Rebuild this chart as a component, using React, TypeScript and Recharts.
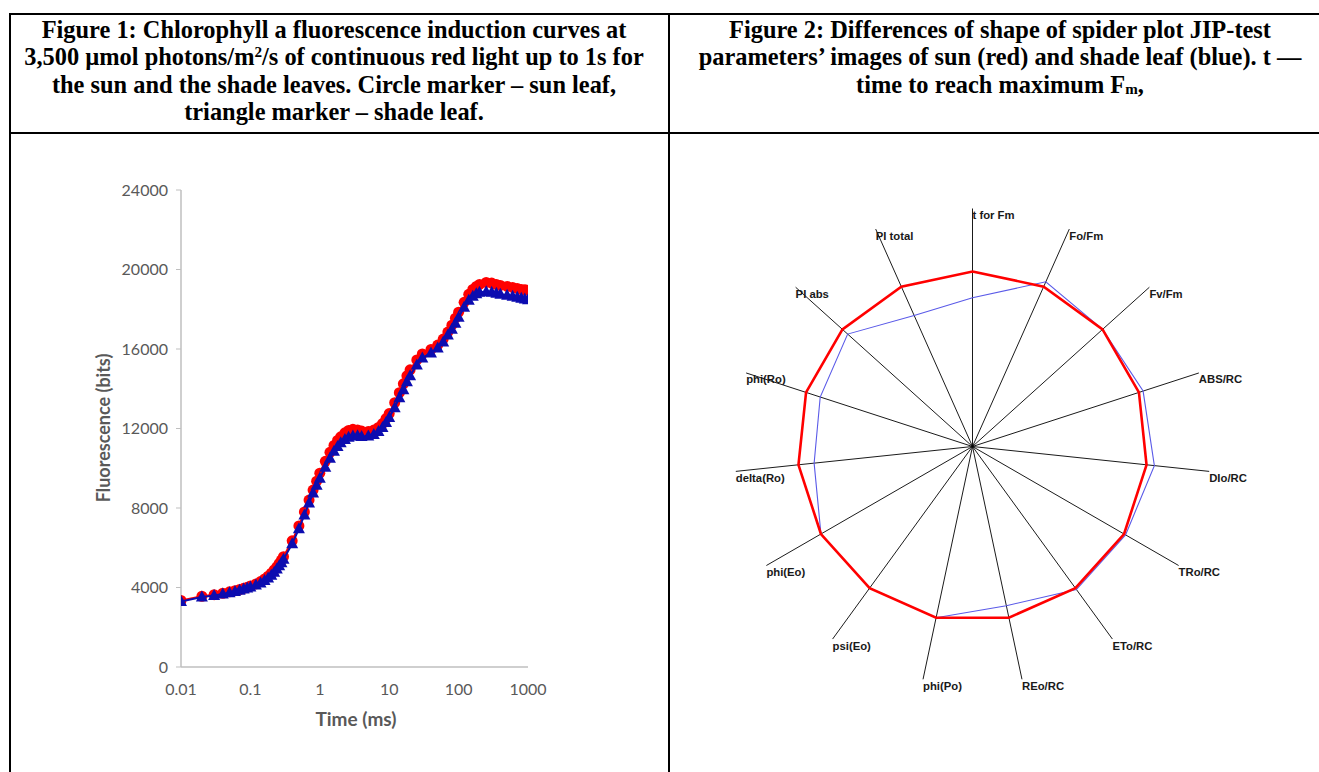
import React from 'react';
import {
  ScatterChart,
  Scatter,
  XAxis,
  YAxis,
  RadarChart,
  Radar,
  PolarGrid,
  PolarAngleAxis,
  PolarRadiusAxis,
} from 'recharts';

// Figure 1 – OJIP induction curves (time in ms, fluorescence in bits)
const timeMs = [
  0.01, 0.02, 0.03, 0.04, 0.05, 0.06, 0.07, 0.08, 0.09, 0.1,
  0.12, 0.14, 0.16, 0.18, 0.2, 0.22, 0.24, 0.26, 0.28, 0.3,
  0.4, 0.5, 0.6, 0.7, 0.8, 0.9, 1, 1.2, 1.4, 1.6,
  1.8, 2, 2.3, 2.6, 3, 3.5, 4, 5, 6, 7,
  8, 9, 10, 12, 14, 16, 18, 20, 25, 30,
  40, 50, 60, 70, 80, 90, 100, 120, 140, 160,
  180, 200, 250, 300, 350, 400, 500, 600, 700, 800,
  900, 1000,
];
const sunLeaf = [
  3350, 3560, 3640, 3710, 3780, 3840, 3900, 3960, 4010, 4070,
  4180, 4300, 4430, 4570, 4720, 4880, 5040, 5210, 5380, 5550,
  6350, 7100, 7800, 8400, 8900, 9350, 9750, 10350, 10800, 11150,
  11400, 11580, 11780, 11900, 11960, 11930, 11870, 11850, 11920, 12050,
  12250, 12500, 12750, 13300, 13800, 14250, 14650, 14950, 15450, 15750,
  15980, 16200, 16500, 16850, 17200, 17550, 17850, 18350, 18750, 19000,
  19150, 19250, 19350, 19320, 19250, 19200, 19150, 19100, 19050, 19000,
  18980, 18950,
];
const shadeLeaf = [
  3300, 3520, 3600, 3670, 3740, 3800, 3860, 3920, 3970, 4020,
  4120, 4230, 4350, 4480, 4620, 4770, 4930, 5090, 5250, 5420,
  6200, 6950, 7650, 8250, 8750, 9150, 9500, 10050, 10500, 10850,
  11100, 11280, 11450, 11560, 11620, 11630, 11600, 11620, 11700, 11850,
  12050, 12300, 12550, 13050, 13550, 13950, 14350, 14650, 15200, 15550,
  15800, 16050, 16350, 16700, 17000, 17300, 17600, 18100, 18450, 18650,
  18780, 18850, 18880, 18850, 18800, 18750, 18700, 18650, 18600, 18550,
  18520, 18480,
];
const timeTicks = [0.01, 0.1, 1, 10, 100, 1000];
const fluorTicks = [0, 4000, 8000, 12000, 16000, 20000, 24000];

// Figure 2 – JIP-test spider plot (sun leaf = 1)
const jipParams = [
  't for Fm', 'Fo/Fm', 'Fv/Fm', 'ABS/RC', 'DIo/RC', 'TRo/RC', 'ETo/RC', 'REo/RC',
  'phi(Po)', 'psi(Eo)', 'phi(Eo)', 'delta(Ro)', 'phi(Ro)', 'PI abs', 'PI total',
];
const sunJip = [1, 1, 1, 1, 1, 1, 1, 1, 1, 1, 1, 1, 1, 1, 1];
const shadeJip = [0.85, 1.03, 1.0, 1.025, 1.045, 1.01, 1.01, 0.93, 1.0, 1.0, 1.0, 0.91, 0.915, 0.96, 0.82];

const sunData = timeMs.map((t, i) => ({ t, f: sunLeaf[i] }));
const shadeData = timeMs.map((t, i) => ({ t, f: shadeLeaf[i] }));
const jipData = jipParams.map((p, i) => ({ param: p, sun: sunJip[i], shade: shadeJip[i] }));

const RED = '#ff0000';
const BLUE = '#0c0cb0';
const GREY_TEXT = '#595959';

const RedCircle = (props: any) => <circle cx={props.cx} cy={props.cy} r={5.5} fill={RED} />;

const BlueTriangle = (props: any) => {
  const { cx, cy } = props;
  return <path d={`M${cx},${cy - 6.5}L${cx + 6},${cy + 4.5}L${cx - 6},${cy + 4.5}Z`} fill={BLUE} />;
};

const SpiderLabel = (props: any) => (
  <text
    x={props.x}
    y={props.y + 10.5}
    textAnchor="start"
    fontFamily="'Liberation Sans', Arial, sans-serif"
    fontWeight="bold"
    fontSize={11.3}
    fill="#1a1a1a"
  >
    {props.payload.value}
  </text>
);

const headStyle: React.CSSProperties = {
  position: 'absolute',
  top: 16,
  width: 660,
  textAlign: 'center',
  fontFamily: "'Liberation Serif', 'Times New Roman', serif",
  fontWeight: 'bold',
  fontSize: 24.4,
  lineHeight: '27.3px',
  whiteSpace: 'nowrap',
  color: '#000',
};

const sup: React.CSSProperties = { fontSize: '0.62em', lineHeight: 0, position: 'relative', top: '-0.55em' };
const sub: React.CSSProperties = { fontSize: '0.62em', lineHeight: 0, position: 'relative', top: '0.1em' };

const axisTitle: React.CSSProperties = {
  position: 'absolute',
  width: 220,
  lineHeight: '20px',
  textAlign: 'center',
  fontFamily: 'Lato, sans-serif',
  fontWeight: 'bold',
  color: GREY_TEXT,
};

export default function App() {
  return (
    <div
      style={{
        position: 'absolute',
        left: 0,
        top: 0,
        width: 1319,
        height: 772,
        overflow: 'hidden',
        background: '#fff',
      }}
    >
      {/* table borders */}
      <div style={{ position: 'absolute', left: 9, top: 13, width: 1310, height: 2, background: '#000' }} />
      <div style={{ position: 'absolute', left: 9, top: 132, width: 1310, height: 2, background: '#000' }} />
      <div style={{ position: 'absolute', left: 9, top: 13, width: 2, height: 759, background: '#000' }} />
      <div style={{ position: 'absolute', left: 668, top: 13, width: 2, height: 759, background: '#000' }} />

      <div style={{ ...headStyle, left: 334 - 330 }}>
        Figure 1: Chlorophyll a fluorescence induction curves at
        <br />
        3,500 µmol photons/m<span style={sup}>2</span>/s of continuous red light up to 1s for
        <br />
        the sun and the shade leaves. Circle marker – sun leaf,
        <br />
        triangle marker – shade leaf.
      </div>
      <div style={{ ...headStyle, left: 1000 - 330 }}>
        Figure 2: Differences of shape of spider plot JIP-test
        <br />
        parameters’ images of sun (red) and shade leaf (blue). t —
        <br />
        time to reach maximum F<span style={sub}>m</span>,
      </div>

      {/* Figure 1 */}
      <div style={{ position: 'absolute', left: 60, top: 160 }}>
        <ScatterChart width={520} height={600} margin={{ top: 30, right: 52, bottom: 53, left: 60 }}>
          <XAxis
            dataKey="t"
            type="number"
            scale="log"
            domain={[0.01, 1000]}
            ticks={timeTicks}
            allowDataOverflow
            height={40}
            axisLine={{ stroke: '#bfbfbf', strokeWidth: 1.5 }}
            tickLine={false}
            tickSize={6}
            tickMargin={11}
            tick={{ fill: GREY_TEXT, fontSize: 16, fontFamily: 'Lato, sans-serif' }}
          />
          <YAxis
            dataKey="f"
            type="number"
            domain={[0, 24000]}
            ticks={fluorTicks}
            width={61}
            axisLine={{ stroke: '#bfbfbf', strokeWidth: 1.5 }}
            tickLine={{ stroke: '#bfbfbf' }}
            tickSize={5}
            tickMargin={8}
            tick={{ fill: GREY_TEXT, fontSize: 16, fontFamily: 'Lato, sans-serif' }}
          />
          <Scatter
            data={sunData}
            shape={RedCircle}
            line={{ stroke: RED, strokeWidth: 2 }}
            lineType="joint"
            isAnimationActive={false}
          />
          <Scatter
            data={shadeData}
            shape={BlueTriangle}
            line={{ stroke: BLUE, strokeWidth: 2 }}
            lineType="joint"
            isAnimationActive={false}
          />
        </ScatterChart>
      </div>
      <div style={{ ...axisTitle, left: 356 - 110, top: 709, fontSize: 19 }}>Time (ms)</div>
      <div style={{ ...axisTitle, left: 103 - 110, top: 418, fontSize: 18, transform: 'rotate(-90deg)' }}>
        Fluorescence (bits)
      </div>

      {/* Figure 2 */}
      <div style={{ position: 'absolute', left: 672, top: 136 }}>
        <RadarChart
          width={600}
          height={630}
          cx={300.5}
          cy={310.5}
          outerRadius={238}
          data={jipData}
          margin={{ top: 0, right: 0, bottom: 0, left: 0 }}
        >
          <PolarGrid gridType="polygon" polarRadius={[]} stroke="#000" strokeWidth={0.9} />
          <PolarAngleAxis
            dataKey="param"
            axisLine={false}
            tickLine={false}
            tickSize={0.01}
            tick={SpiderLabel}
          />
          <PolarRadiusAxis domain={[0, 1.36]} tick={false} axisLine={false} />
          <Radar
            dataKey="shade"
            stroke="#5a5ae8"
            strokeWidth={1.1}
            fill="none"
            fillOpacity={0}
            dot={false}
            isAnimationActive={false}
          />
          <Radar
            dataKey="sun"
            stroke={RED}
            strokeWidth={2.6}
            fill="none"
            fillOpacity={0}
            dot={false}
            isAnimationActive={false}
          />
        </RadarChart>
      </div>
    </div>
  );
}
